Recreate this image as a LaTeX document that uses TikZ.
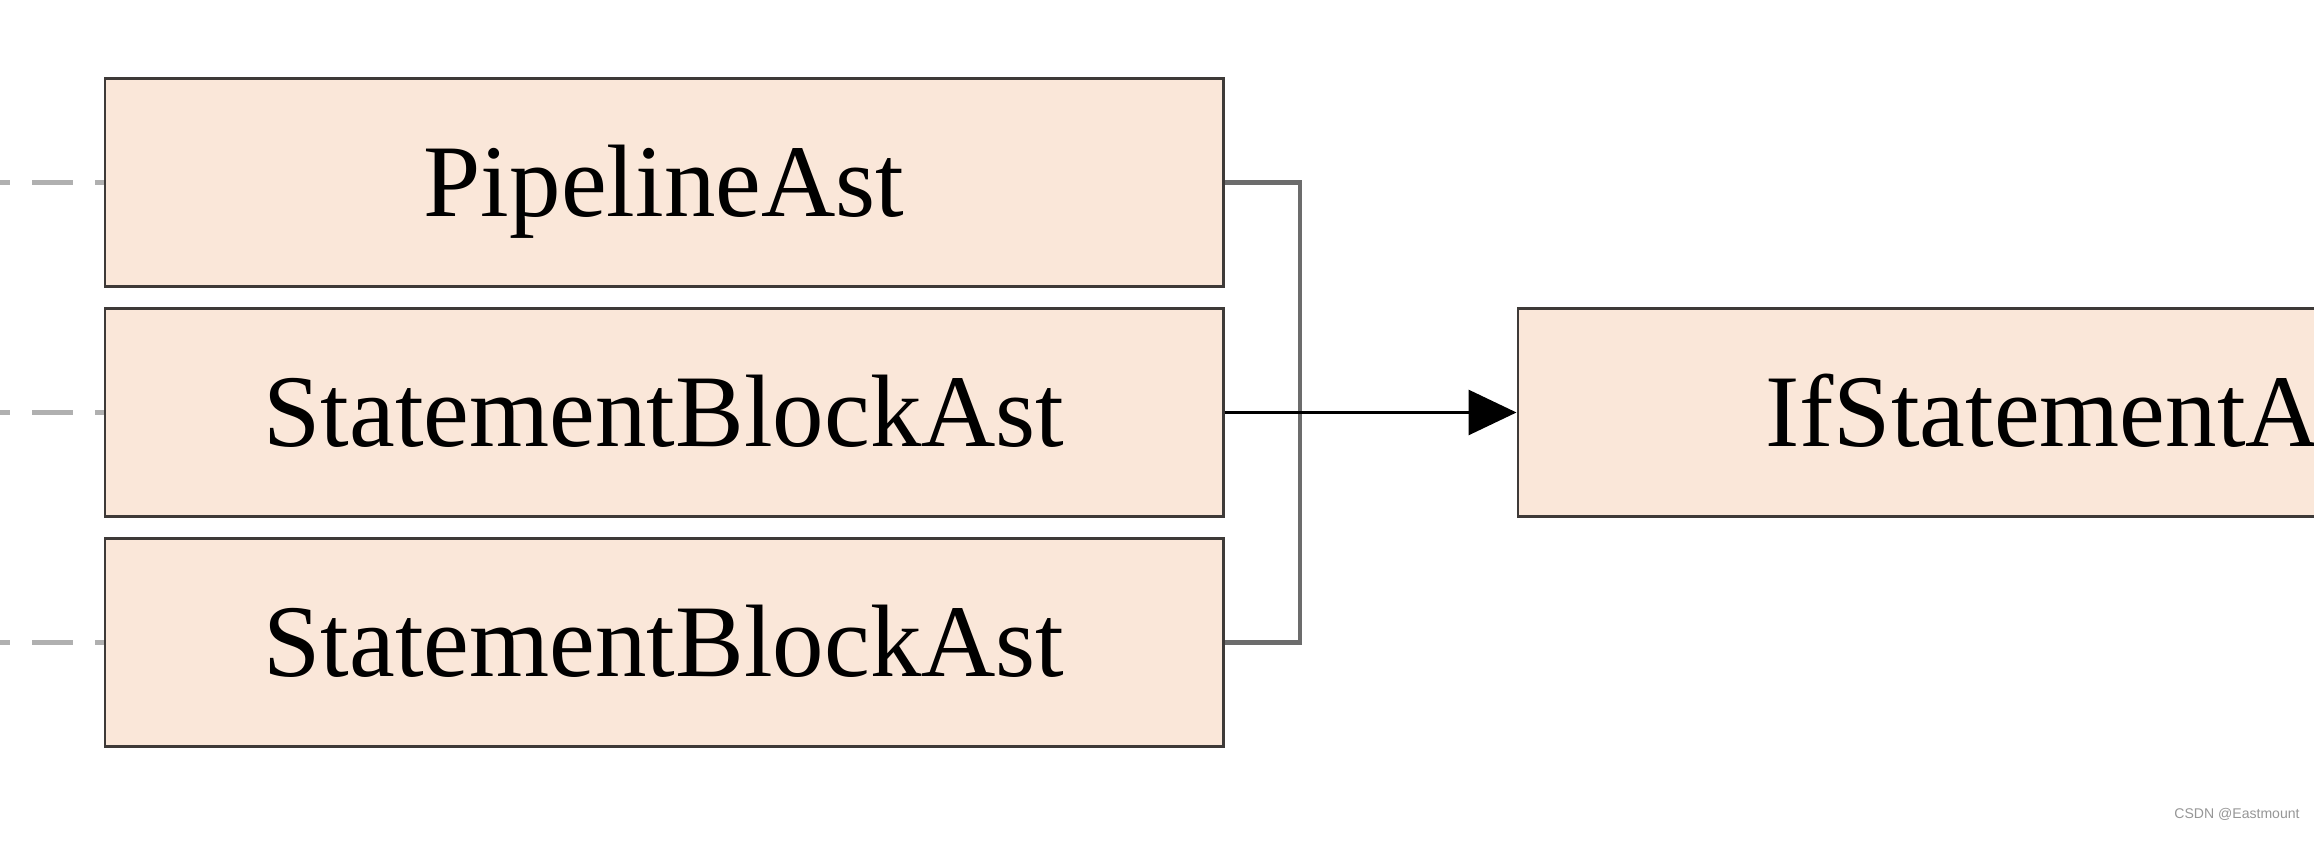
\documentclass[tikz,border=0pt]{standalone}
\usepackage{xcolor}
\usepackage{fontspec}
\setmainfont{Liberation Serif}
\setsansfont{Liberation Sans}
\usepackage{tikz}
\usetikzlibrary{positioning,arrows.meta}

\definecolor{astfill}{RGB}{250,231,217}
\definecolor{boxline}{RGB}{62,58,56}
\definecolor{dashgray}{RGB}{176,176,176}
\definecolor{joingray}{RGB}{108,108,108}
\definecolor{wmgray}{RGB}{150,150,150}

\begin{document}
\begin{tikzpicture}[
    astbox/.style={rectangle, draw=boxline, line width=0.85pt, fill=astfill,
      minimum width=11.18cm, minimum height=2.08cm, inner sep=0pt,
      text height=0.68cm, text depth=0cm, font=\fontsize{29.3}{35}\selectfont},
    dashlink/.style={draw=dashgray, line width=1.25pt, dash pattern=on 0.41cm off 0.22cm, dash phase=0.31cm},
    joinline/.style={draw=joingray, line width=1.2pt},
    flow/.style={draw=black, line width=0.85pt, -{Triangle[length=0.48cm, width=0.45cm]}}]
    \useasboundingbox (0,0) rectangle (23.14,8.57);
    \clip (0,0) rectangle (23.14,8.57);

    \node[astbox] (pipe) at (6.64,6.745) {PipelineAst};
    \node[astbox, below=0.19cm of pipe] (block) {StatementBlockAst};
    \node[astbox, below=0.19cm of block] (blockb) {StatementBlockAst};
    \node[astbox, right=2.92cm of block] (ifstmt) {IfStatementAst};

    \coordinate (edge) at (0,0);
    \coordinate (join) at (13.00,4.44);

    % links to the parent, cut off at the left
    \foreach \n in {pipe,block,blockb}
        \draw[dashlink] (\n.west -| edge) -- (\n.west);

    \draw[joinline] (pipe.east) -| (join) |- (blockb.east);
    \draw[flow] (block.east) -- (ifstmt.west);

    \node[font=\fontsize{4}{5}\selectfont\sffamily, text=wmgray] (mark) at (22.37,0.43) {CSDN @Eastmount};
\end{tikzpicture}
\end{document}
